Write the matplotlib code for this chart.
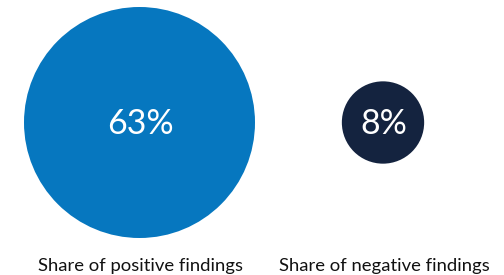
import numpy as np
import matplotlib
matplotlib.use("Agg")
import matplotlib.pyplot as plt
from matplotlib.patches import Circle

# data
labels = ["Share of positive findings", "Share of negative findings"]
shares = [63, 8]
colors = ["#0677BF", "#14233F"]

# layout (pixel coords)
centers_x = [139.5, 383]
center_y = 122.5
scale = 115.5 / np.sqrt(63)   # area-proportional radius

fig = plt.figure(figsize=(5.04, 2.75), dpi=100)
ax = fig.add_axes([0, 0, 1, 1])
ax.set_xlim(0, 504)
ax.set_ylim(275, 0)
ax.set_aspect("equal")
ax.axis("off")

for cx, v, c, lab in zip(centers_x, shares, colors, labels):
    r = scale * np.sqrt(v)
    ax.add_patch(Circle((cx, center_y), r, color=c, lw=0))
    ax.text(cx + 1, center_y + 1, f"{v}%", color="white", fontsize=24.5,
            family="Lato", ha="center", va="center")
    ax.text(cx + 1.5, 266, lab, color="#111111", fontsize=13.3,
            family="Lato", ha="center", va="center")

fig.savefig("out.png", dpi=100)
